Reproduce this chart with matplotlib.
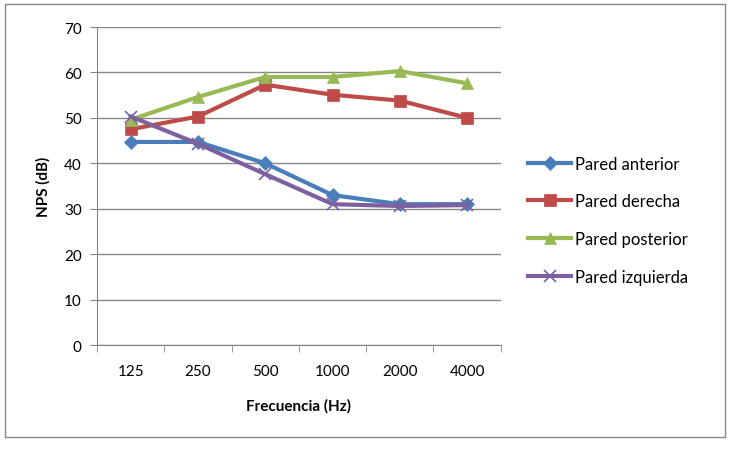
import matplotlib.pyplot as plt
import numpy as np
from matplotlib.patches import Rectangle

plt.rcParams["font.family"] = ["Lato", "DejaVu Sans"]

frequencies = ["125", "250", "500", "1000", "2000", "4000"]
pared_anterior = [44.7, 44.7, 40.0, 33.0, 31.0, 31.0]
pared_derecha = [47.5, 50.3, 57.3, 55.1, 53.8, 50.0]
pared_posterior = [49.6, 54.6, 59.0, 59.0, 60.3, 57.6]
pared_izquierda = [50.3, 44.3, 37.6, 31.0, 30.6, 30.8]

series = [
    ("Pared anterior", pared_anterior, "#4A7EBB", "D", 7),
    ("Pared derecha", pared_derecha, "#BE4B48", "s", 9),
    ("Pared posterior", pared_posterior, "#98B954", "^", 9),
    ("Pared izquierda", pared_izquierda, "#7D60A0", "x", 8),
]

fig = plt.figure(figsize=(7.3, 4.52), dpi=100)
ax = fig.add_axes([0.133, 0.2345, 0.553, 0.7035])

x = np.arange(len(frequencies))
for label, values, color, marker, size in series:
    ax.plot(x, values, color=color, linewidth=3, marker=marker, markersize=size,
            markeredgewidth=1.2 if marker == "x" else 0.5, markeredgecolor=color, label=label)

ax.set_xlim(-0.5, len(frequencies) - 0.5)
ax.set_ylim(0, 70)
ax.set_yticks(range(0, 71, 10))
ax.yaxis.grid(True, color="#868686", linewidth=1)
ax.set_axisbelow(True)
ax.set_xticks(x)
ax.set_xticklabels(frequencies)
ax.set_xticks(np.arange(-0.5, len(frequencies), 1), minor=True)
ax.tick_params(axis="x", which="major", length=0, pad=14, labelsize=11)
ax.tick_params(axis="x", which="minor", length=5, color="#868686")
ax.tick_params(axis="y", length=5, color="#868686", labelsize=11, pad=6)
for side in ["top", "right"]:
    ax.spines[side].set_visible(False)
for side in ["left", "bottom"]:
    ax.spines[side].set_color("#868686")

ax.set_xlabel("Frecuencia (Hz)", fontweight="bold", fontsize=11, labelpad=14)
ax.set_ylabel("NPS (dB)", fontweight="bold", fontsize=11, labelpad=10)

ax.legend(loc="center left", bbox_to_anchor=(1.03, 0.393), frameon=False, fontsize=12,
          handlelength=2.6, labelspacing=1.3, handletextpad=0.2)

fig.add_artist(Rectangle((0.007, 0.03), 0.986, 0.958, transform=fig.transFigure,
                         fill=False, edgecolor="#868686", linewidth=1))

fig.savefig("out.png", dpi=100)
